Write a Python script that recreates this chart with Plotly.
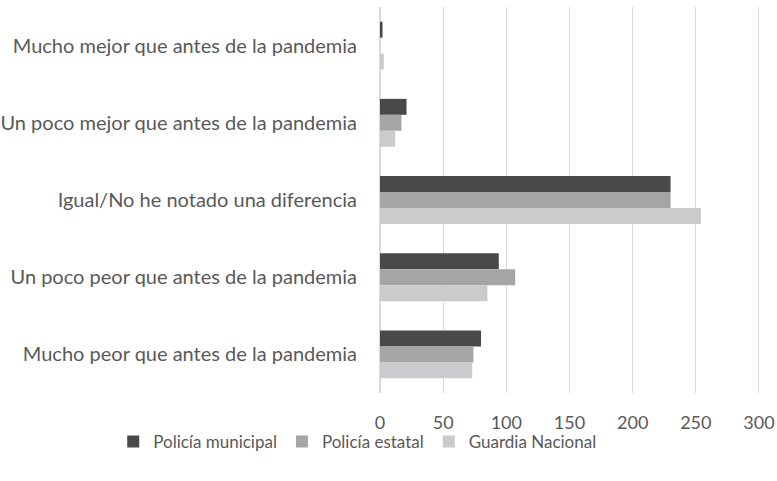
import plotly.graph_objects as go

# Categorías (de arriba hacia abajo) y valores por corporación
categorias = [
    "Mucho mejor que antes de la pandemia",
    "Un poco mejor que antes de la pandemia",
    "Igual/No he notado una diferencia",
    "Un poco peor que antes de la pandemia",
    "Mucho peor que antes de la pandemia",
]
policia_municipal = [2, 21, 230, 94, 80]
policia_estatal = [0, 17, 230, 107, 74]
guardia_nacional = [3, 12, 254, 85, 73]

series = [
    ("Policía municipal", policia_municipal, "#48494B"),
    ("Policía estatal", policia_estatal, "#A5A5A7"),
    ("Guardia Nacional", guardia_nacional, "#CBCBCD"),
]

fig = go.Figure()
for name, vals, color in series:
    fig.add_trace(go.Bar(
        y=categorias,
        x=vals,
        name=name,
        orientation="h",
        marker=dict(color=color, line=dict(width=0)),
    ))

fig.update_layout(
    width=777,
    height=481,
    barmode="group",
    bargap=0.38,
    bargroupgap=0,
    plot_bgcolor="white",
    paper_bgcolor="white",
    margin=dict(l=380, r=17, t=7, b=88, autoexpand=False),
    font=dict(family="Lato", size=20, color="#595959"),
    showlegend=True,
    legend=dict(
        orientation="h",
        x=-0.702,
        xanchor="left",
        y=-0.127,
        yanchor="middle",
        bgcolor="rgba(0,0,0,0)",
        font=dict(size=17, color="#595959"),
        itemwidth=30,
        traceorder="normal",
    ),
)

# range a hair past 300 so the last gridline is drawn
fig.update_xaxes(
    range=[0, 300.8],
    dtick=50,
    showgrid=True,
    gridcolor="#D9D9D9",
    gridwidth=1,
    zeroline=True,
    zerolinecolor="#D9D9D9",
    showline=False,
    ticks="",
    ticklabelstandoff=17,
    ticklabeloverflow="allow",
    automargin=False,
    tickfont=dict(size=18),
)
fig.update_yaxes(
    autorange="reversed",
    showgrid=False,
    showline=False,
    ticks="",
    ticklabelstandoff=22,
    automargin=False,
)

# drop the default 8px body margin so the figure sits at the page corner
fig.write_html(
    "out.html",
    config={"displayModeBar": False},
    post_script="document.body.style.margin='0';",
)
